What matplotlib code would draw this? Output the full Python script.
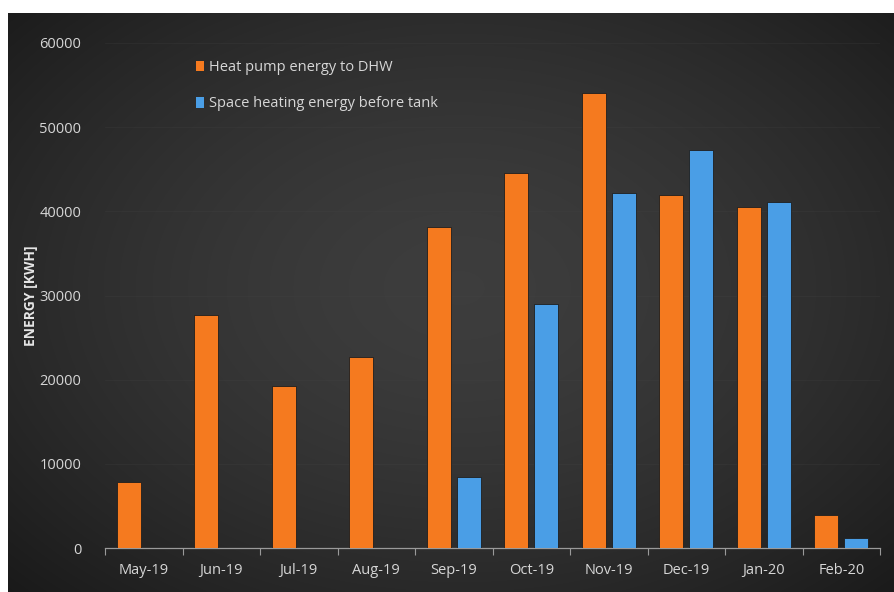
import numpy as np
import matplotlib
matplotlib.use("Agg")
import matplotlib.pyplot as plt
from matplotlib.patches import Patch

plt.rcParams['font.family'] = ['Open Sans', 'DejaVu Sans']

months = ["May-19", "Jun-19", "Jul-19", "Aug-19", "Sep-19",
          "Oct-19", "Nov-19", "Dec-19", "Jan-20", "Feb-20"]
dhw_energy = [7880, 27700, 19250, 22700, 38150, 44600, 54100, 41950, 40550, 3900]
space_heating = [0, 0, 0, 0, 8450, 29000, 42200, 47300, 41150, 1200]
series_labels = ["Heat pump energy to DHW", "Space heating energy before tank"]
y_ticks = [0, 10000, 20000, 30000, 40000, 50000, 60000]

W, H = 894, 592
fig = plt.figure(figsize=(W / 100, H / 100), dpi=100)
fig.patch.set_facecolor("white")

# dark radial-gradient backdrop
bg = fig.add_axes([8 / W, 0, (W - 8) / W, (H - 13) / H])
bg.set_axis_off()
gx, gy = np.meshgrid(np.linspace(-1, 1, 400), np.linspace(-1, 1, 300))
r = np.sqrt(((gx - 0.02) / 1.05) ** 2 + ((gy + 0.05) / 1.1) ** 2)
shade = 0.24 - 0.085 * np.clip(r, 0, 1.4) ** 1.6
img = np.dstack([shade, shade, shade])
bg.imshow(img, aspect="auto", extent=[0, 1, 0, 1], interpolation="bilinear")

ax = fig.add_axes([105 / W, 1 - 548 / H, 775 / W, (548 - 43) / H])
ax.patch.set_alpha(0)

x = np.arange(len(months))
bw = 0.31
off = 0.194
ax.bar(x - off, dhw_energy, bw, color="#F57A1F", edgecolor="#1e1e1e",
       linewidth=0.6, zorder=3)
ax.bar(x + off, space_heating, bw, color="#4A9EE6", edgecolor="#1e1e1e",
       linewidth=0.6, zorder=3)

ax.set_xlim(-0.5, len(months) - 0.5)
ax.set_ylim(0, 60000)
ax.set_yticks(y_ticks)
ax.set_yticklabels([str(v) for v in y_ticks])
ax.set_xticks(x)
ax.set_xticklabels(months)
ax.set_xticks(np.arange(-0.5, len(months)), minor=True)

text_col = "#d6d6d6"
ax.tick_params(axis="y", length=0, pad=17, labelsize=10.5, labelcolor=text_col)
ax.tick_params(axis="x", which="major", length=0, pad=11, labelsize=10.5,
               labelcolor=text_col)
ax.tick_params(axis="x", which="minor", length=5, width=0.8, color="#9a9a9a",
               direction="out")

for s in ["top", "right", "left"]:
    ax.spines[s].set_visible(False)
ax.spines["bottom"].set_color("#9a9a9a")
ax.spines["bottom"].set_linewidth(0.9)

ax.grid(axis="y", color="#474747", linewidth=0.6, alpha=0.25, zorder=0)
ax.set_axisbelow(True)

ax.set_ylabel("ENERGY [KWH]", color="#e6e6e6", fontsize=10, fontweight="bold")
ax.yaxis.set_label_coords(-0.086, 0.5)

handles = [Patch(facecolor="#F57A1F", edgecolor="none"),
           Patch(facecolor="#4A9EE6", edgecolor="none")]
leg = ax.legend(handles, series_labels, loc="upper left",
                bbox_to_anchor=(0.1, 0.992), frameon=False,
                handlelength=0.55, handleheight=0.75, handletextpad=0.35,
                labelspacing=1.45, fontsize=10.5)
for t in leg.get_texts():
    t.set_color(text_col)

fig.savefig("out.png", dpi=100, facecolor=fig.get_facecolor())
